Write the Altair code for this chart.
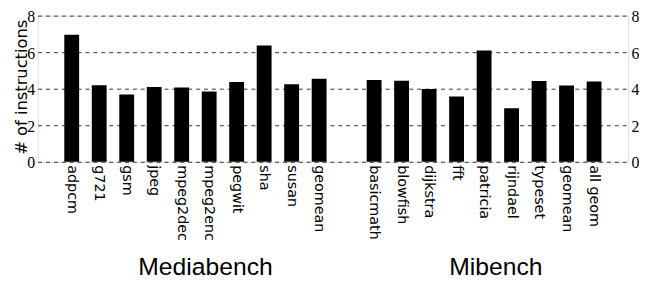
import altair as alt
import pandas as pd

media_names = ["adpcm", "g721", "gsm", "jpeg", "mpeg2dec", "mpeg2enc", "pegwit", "sha", "susan", "geomean"]
media_vals = [6.95, 4.19, 3.68, 4.10, 4.06, 3.85, 4.37, 6.36, 4.24, 4.55]
mi_names = ["basicmath", "blowfish", "dijkstra", "fft", "patricia", "rijndael", "typeset", "geomean ", "all geom"]
mi_vals = [4.48, 4.44, 3.99, 3.58, 6.09, 2.93, 4.42, 4.17, 4.39]
spacer = [" "]
y_ticks = [0, 2, 4, 6, 8]
groups = ["Mediabench", "Mibench"]
group_x = [170, 464]

df = pd.DataFrame({"bench": media_names + mi_names, "value": media_vals + mi_vals})
domain = media_names + spacer + mi_names
x_scale = alt.Scale(domain=domain, paddingInner=0.46, paddingOuter=0.97)

x_enc = alt.X(
    "bench:N",
    scale=x_scale,
    axis=alt.Axis(
        title=None, labelAngle=90, labelAlign="left", labelBaseline="middle",
        labelPadding=3, ticks=False, domain=False, labelOverlap=False,
        labelExpr="trim(datum.label)", labelFont="DejaVu Sans", labelFontSize=14.5,
        labelColor="black",
    ),
)
y_scale = alt.Scale(domain=[0, 8], nice=False)

bars = alt.Chart(df).mark_bar(color="black").encode(
    x=x_enc,
    y=alt.Y("value:Q", scale=y_scale, axis=alt.Axis(
        orient="left", values=y_ticks, title="# of instructions", grid=True,
        gridDash=[4, 4], gridColor="#333333", gridWidth=1, domain=False, ticks=False,
        labelFont="Liberation Serif", labelFontSize=16, labelColor="black", labelPadding=3,
        labelBaseline="middle", labelOffset=1,
        titleFont="DejaVu Sans", titleFontSize=16.5, titleFontWeight="normal", titleColor="black",
        titleAngle=270, titleBaseline="alphabetic", titleX=-11, titleY=72,
    )),
)

bars_right = alt.Chart(df).mark_bar(opacity=0).encode(
    x=alt.X("bench:N", scale=x_scale, axis=None),
    y=alt.Y("value:Q", scale=y_scale, axis=alt.Axis(
        orient="right", values=y_ticks, title=None, grid=False, domain=False, ticks=False,
        labelFont="Liberation Serif", labelFontSize=16, labelColor="black", labelPadding=3,
        labelBaseline="middle", labelOffset=1,
    )),
)

gdf = pd.DataFrame({"group": groups, "gx": group_x})
labels = alt.Chart(gdf).mark_text(
    font="Liberation Sans", fontSize=25, color="black", align="center", baseline="alphabetic"
).encode(
    text="group:N",
    x=alt.X("gx:Q", scale=alt.Scale(domain=[0, 598], range=[0, 598]), axis=None),
    y=alt.value(263),
)

chart = alt.layer(bars, bars_right, labels).resolve_axis(y="independent").resolve_scale(x="independent").properties(
    width=598, height=148,
    autosize=alt.AutoSizeParams(type="none"),
    padding={"left": 30, "top": 6, "right": 11, "bottom": 119},
).configure_view(stroke="black", strokeWidth=1).configure(background="white")

chart.save("out.html", embed_options={"renderer": "svg", "actions": False})
